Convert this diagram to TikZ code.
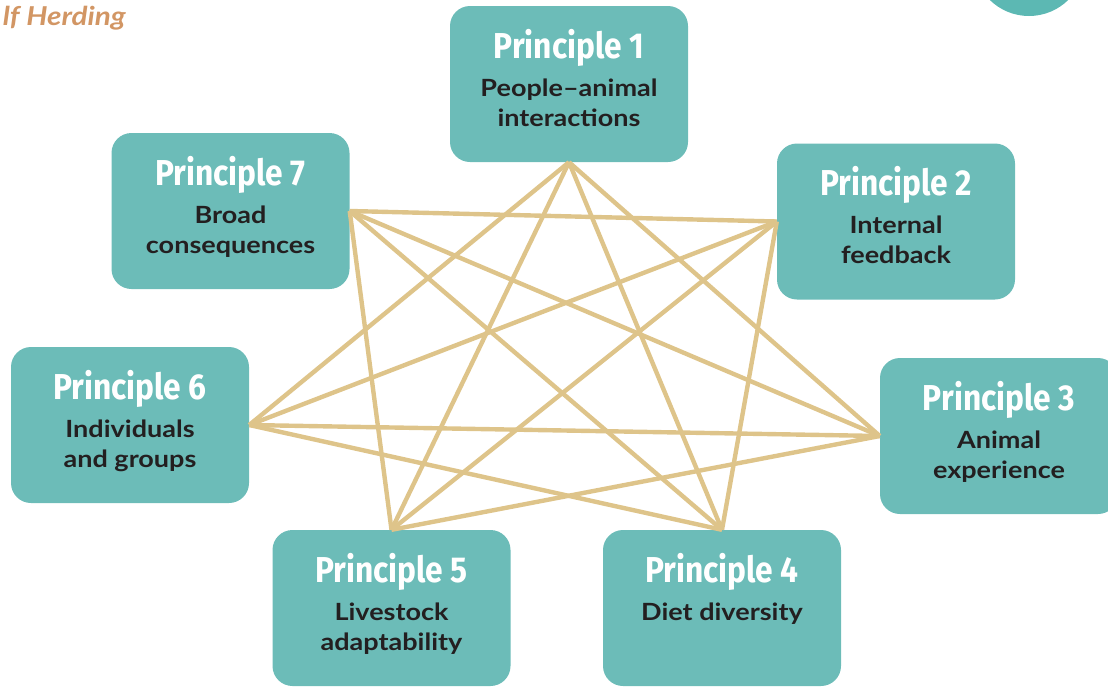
\documentclass[tikz,border=0pt]{standalone}
\usepackage{fontspec}
\usepackage{tikz}
\usepackage{xcolor}
\setmainfont{Lato}
\newfontfamily\titlefont{Fira Sans}[FakeStretch=0.88]
\newfontfamily\bodyfont{Lato}[FakeStretch=1.14]

\definecolor{boxteal}{HTML}{6CBCB8}
\definecolor{dotteal}{HTML}{5CB8B3}
\definecolor{linktan}{HTML}{DEC48A}
\definecolor{bodyink}{HTML}{231F20}
\definecolor{headorange}{HTML}{D29664}

\begin{document}
\begin{tikzpicture}[x=1pt,y=-1pt,
    pbox/.style={fill=boxteal, rounded corners=20pt, minimum width=238pt, minimum height=156pt, inner sep=0pt},
    ptitle/.style={text=white, font=\titlefont\bfseries\fontsize{36}{40}\selectfont, inner sep=0pt},
    pbody/.style={text=bodyink, font=\bodyfont\bfseries\fontsize{23.7}{30}\selectfont, inner sep=0pt},
    link/.style={draw=linktan, line width=4.4pt}]
    \useasboundingbox (0,0) rectangle (1108,686);
    % header remnants
    \node[anchor=base east, inner sep=0pt, text=headorange, font=\bodyfont\bfseries\itshape\fontsize{26}{30}\selectfont] (head) at (126,25) {lf Herding};
    \fill[dotteal] (1029,-40) circle (56);
    % principle boxes
    \foreach \n/\cx/\cy/\linea/\lineb in {1/569/84/People–animal/interactions,
        2/896/221.5/Internal/feedback,
        3/999/436/Animal/experience,
        4/722/608/Diet diversity/,
        5/391.5/608/Livestock/adaptability,
        6/130/425/Individuals/and groups,
        7/230.5/211/Broad/consequences}{
      \node[pbox] (p\n) at (\cx,\cy) {};
      \node[ptitle, anchor=base] (t\n) at (\cx,\cy-26) {Principle \n};
      \node[pbody, anchor=base] (b\n) at (\cx,\cy+12) {\linea};
      \node[pbody, anchor=base] (d\n) at (\cx,\cy+42) {\lineb};
    }
    \coordinate (c1) at (p1.south);
    \coordinate (c2) at (p2.west);
    \coordinate (c3) at (p3.west);
    \coordinate (c4) at (p4.north);
    \coordinate (c5) at (p5.north);
    \coordinate (c6) at (p6.east);
    \coordinate (c7) at (p7.east);
    % star links
    \foreach \i in {1,...,7}{
      \foreach \k in {2,3}{
        \pgfmathtruncatemacro\j{mod(\i+\k-1,7)+1}
        \draw[link] (c\i) -- (c\j);
      }
    }
\end{tikzpicture}
\end{document}
